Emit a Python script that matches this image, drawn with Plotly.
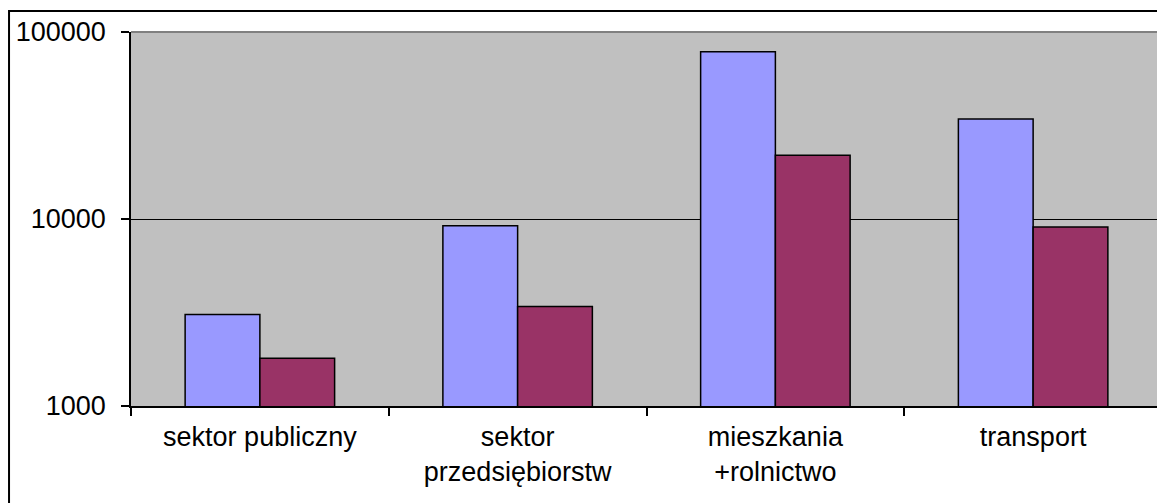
import plotly.graph_objects as go

categories = ["sektor publiczny", "sektor<br>przedsiębiorstw", "mieszkania<br>+rolnictwo", "transport"]
series_a = [3090, 9200, 78500, 34300]
series_b = [1800, 3400, 21900, 9050]
y_tick_vals = [1000, 10000, 100000]
y_tick_text = ["1000", "10000", "100000"]

FONT = "Liberation Sans, Arial, sans-serif"
FS = 27

fig = go.Figure()
fig.add_trace(go.Bar(x=categories, y=series_a, marker=dict(color="#9999FF", line=dict(color="black", width=1.5)), showlegend=False))
fig.add_trace(go.Bar(x=categories, y=series_b, marker=dict(color="#993366", line=dict(color="black", width=1.5)), showlegend=False))

fig.update_layout(
    width=1165, height=503,
    margin=dict(l=123, r=11, t=24, b=105),
    paper_bgcolor="white",
    plot_bgcolor="#C0C0C0",
    barmode="group",
    bargap=0.42,
    bargroupgap=0,
    font=dict(family=FONT, size=FS, color="black"),
)
fig.update_xaxes(
    automargin=False,
    showgrid=False, showline=True, linecolor="black", linewidth=1.5,
    ticks="outside", tickson="boundaries", ticklen=8, tickcolor="black", tickwidth=1.5,
    tickfont=dict(family=FONT, size=FS, color="black"), ticklabelstandoff=6,
)
fig.update_yaxes(
    automargin=False,
    type="log", range=[3, 5], showgrid=True, gridcolor="black", gridwidth=1,
    showline=True, linecolor="black", linewidth=1.5, zeroline=False,
    ticks="outside", ticklen=8, tickcolor="black", tickwidth=1.5,
    tickvals=y_tick_vals, ticktext=y_tick_text,
    tickfont=dict(family=FONT, size=FS, color="black"), ticklabelstandoff=10,
)
# gray top and right plot border
fig.add_shape(type="line", xref="paper", yref="paper", x0=0, x1=1, y0=1, y1=1, line=dict(color="#808080", width=2), layer="above")
fig.add_shape(type="line", xref="paper", yref="paper", x0=1, x1=1, y0=0, y1=1, line=dict(color="#808080", width=2), layer="above")
# outer chart border
fig.add_shape(type="rect", xref="paper", yref="paper", x0=-0.1183, x1=1.02, y0=-0.3, y1=1.056, line=dict(color="black", width=2), fillcolor="rgba(0,0,0,0)", layer="above")

fig.write_html("out.html")
